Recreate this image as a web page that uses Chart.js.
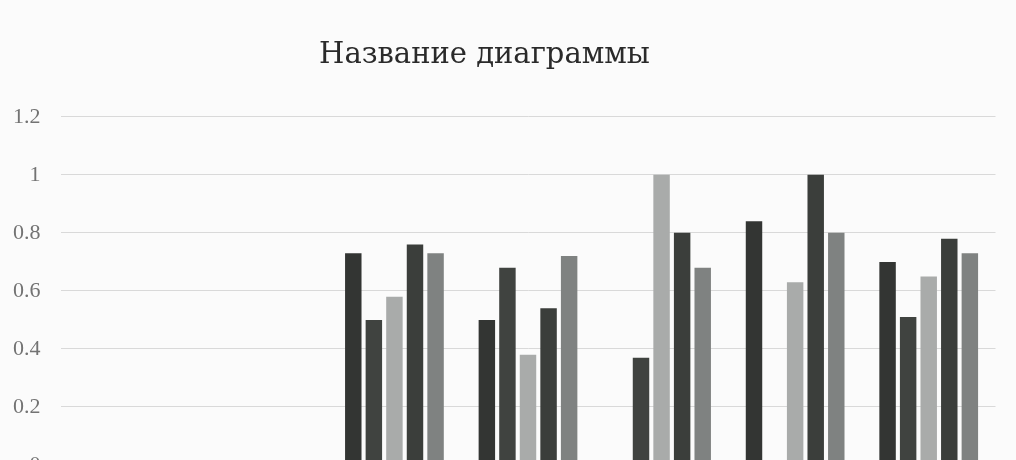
<!DOCTYPE html>
<html lang="ru">
<head>
<meta charset="utf-8">
<title>Название диаграммы</title>
<script src="https://cdn.jsdelivr.net/npm/chart.js@4/dist/chart.umd.min.js"></script>
<style>
    html, body { margin: 0; padding: 0; background: #fbfbfb; overflow: hidden; }
    #cadre { position: absolute; left: 0; top: 0; width: 1016px; height: 480px; }
    #graphique-barres { display: block; width: 1016px; height: 480px; }
</style>
</head>
<body>
<div id="cadre"><canvas id="graphique-barres" width="1016" height="480"></canvas></div>
<script>
const categories = ["1", "2", "3", "4", "5", "6", "7"];
const ryad1 = [null, null, 0.73, 0.50, null, 0.84, 0.70];
const ryad2 = [null, null, 0.50, 0.68, 0.37, null, 0.51];
const ryad3 = [null, null, 0.58, 0.38, 1.00, 0.63, 0.65];
const ryad4 = [null, null, 0.76, 0.54, 0.80, 1.00, 0.78];
const ryad5 = [null, null, 0.73, 0.72, 0.68, 0.80, 0.73];
const nomsRyadov = ["Ряд 1", "Ряд 2", "Ряд 3", "Ряд 4", "Ряд 5"];
const couleurs = ["#333533", "#404340", "#a9abaa", "#3b3e3b", "#7f8281"];

const series = [ryad1, ryad2, ryad3, ryad4, ryad5];
const datasets = [];
for (let i = 0; i < series.length; i++) {
    datasets.push({
        label: nomsRyadov[i],
        data: series[i],
        backgroundColor: couleurs[i],
        barPercentage: 0.8,
        categoryPercentage: 0.77
    });
}

// padding gauche negatif : le titre est decale vers la gauche comme dans l'original
// l'axe 0 tombe sous le bas de la fenetre (photo coupee)
const config = {
    type: "bar",
    data: { labels: categories, datasets: datasets },
    options: {
        responsive: false,
        animation: false,
        layout: { padding: { top: 20, left: -26.5, right: 20.5, bottom: 15 } },
        plugins: {
            legend: { display: false },
            tooltip: { enabled: false },
            title: {
                display: true,
                text: "Название диаграммы",
                color: "#2a2a2a",
                font: { family: "DejaVu Serif", size: 29, weight: "normal" },
                padding: { top: 18, bottom: 44 }
            }
        },
        scales: {
            x: { display: false },
            y: {
                min: 0,
                max: 1.2,
                afterFit: (scale) => {
                    scale.width = 87;
                    scale.paddingTop = 0;
                    scale.paddingBottom = 0;
                },
                ticks: {
                    stepSize: 0.2,
                    color: "#737373",
                    padding: 20,
                    font: { family: "Liberation Serif", size: 22 },
                    callback: (value) => String(Math.round(value * 10) / 10)
                },
                grid: { color: "#d9d9d9", drawTicks: false },
                border: { display: false }
            }
        }
    }
};

new Chart(document.querySelector("#graphique-barres"), config);
</script>
</body>
</html>
